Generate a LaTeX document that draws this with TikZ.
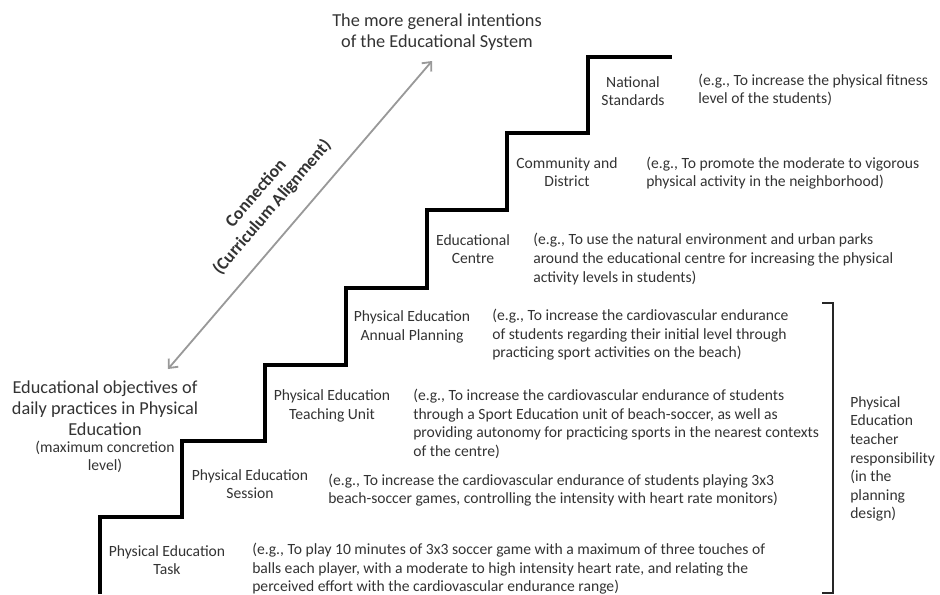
\documentclass[tikz,border=0pt]{standalone}
\usepackage{fontspec}
\setmainfont{Carlito}
\usetikzlibrary{arrows.meta, positioning}

\begin{document}
\begin{tikzpicture}[x=0.025cm, y=-0.025cm,
	lvl/.style={align=center, inner sep=0pt, font=\fontsize{11.1}{13.2}\selectfont, text=black!80},
	ex/.style={align=left, anchor=west, inner sep=0pt, font=\fontsize{11.1}{13.2}\selectfont, text=black!80},
	big/.style={align=center, inner sep=0pt, font=\fontsize{13}{15}\selectfont, text=black!80},
	stairs/.style={line width=3.2pt},
	link/.style={{Straight Barb[length=5pt,width=9pt]}-{Straight Barb[length=5pt,width=9pt]}, line width=1.3pt, black!40},
	bracket/.style={line width=1.3pt, black!85}]
	\useasboundingbox (0,0) rectangle (940,594);

	\draw[stairs] (100,594) |- (182,517) |- (265,441) |- (346,365) |- (427,288) |- (507,210) |- (588,133) |- (672,57);

	\node[big] (general) at (437,32) {The more general intentions\\of the Educational System};
	\node[big] (daily) at (105,408) {Educational objectives of\\daily practices in Physical\\Education};
	\node[lvl, below=3.5pt of daily] (concretion) {(maximum concretion\\level)};

	\coordinate (low) at (168,369);
	\coordinate (high) at (432,61);
	\draw[link] (low) -- node[sloped, above=9pt, pos=0.47, align=center, font=\fontsize{12.5}{15}\selectfont\bfseries, text=black!80] (connection) {Connection\\(Curriculum Alignment)} (high);

	\node[lvl] (national) at (633,91) {National\\Standards};
	\node[lvl] (community) at (567,172) {Community and\\District};
	\node[lvl] (centre) at (473,249) {Educational\\Centre};
	\node[lvl] (annual) at (412,327) {Physical Education\\Annual Planning};
	\node[lvl] (unit) at (332,406) {Physical Education\\Teaching Unit};
	\node[lvl] (session) at (250,484) {Physical Education\\Session};
	\node[lvl] (task) at (167,560) {Physical Education\\Task};

	\node[ex] (nationalex) at (698,90) {(e.g., To increase the physical fitness\\level of the students)};
	\node[ex] (communityex) at (646,173) {(e.g., To promote the moderate to vigorous\\physical activity in the neighborhood)};
	\node[ex] (centreex) at (533,259) {(e.g., To use the natural environment and urban parks\\around the educational centre for increasing the physical\\activity levels in students)};
	\node[ex] (annualex) at (492,335) {(e.g., To increase the cardiovascular endurance\\of students regarding their initial level through\\practicing sport activities on the beach)};
	\node[ex] (unitex) at (413,424) {(e.g., To increase the cardiovascular endurance of students\\through a Sport Education unit of beach-soccer, as well as\\providing autonomy for practicing sports in the nearest contexts\\of the centre)};
	\node[ex] (sessionex) at (328,490) {(e.g., To increase the cardiovascular endurance of students playing 3x3\\beach-soccer games, controlling the intensity with heart rate monitors)};
	\node[ex] (taskex) at (252,569) {(e.g., To play 10 minutes of 3x3 soccer game with a maximum of three touches of\\balls each player, with a moderate to high intensity heart rate, and relating the\\perceived effort with the cardiovascular endurance range)};

	\draw[bracket] (822,303) -| (833,593) -- (822,593);
	\node[ex] (teacher) at (850,459) {Physical\\Education\\teacher\\responsibility\\(in the\\planning\\design)};
\end{tikzpicture}
\end{document}
